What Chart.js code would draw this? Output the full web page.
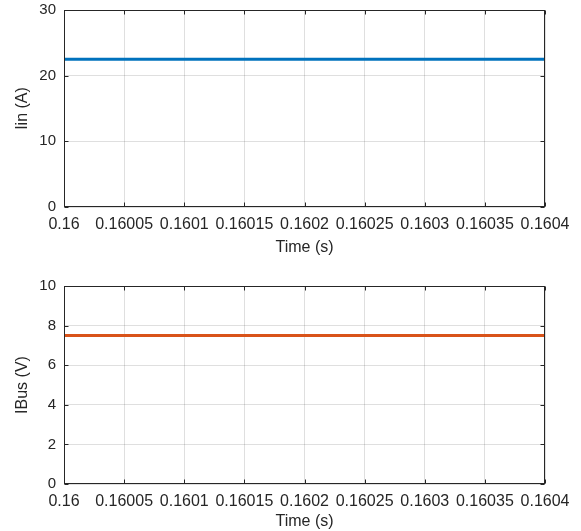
<!DOCTYPE html>
<html>
<head>
<meta charset="utf-8">
<script src="https://cdn.jsdelivr.net/npm/chart.js@4.4.1/dist/chart.umd.min.js"></script>
<style>
  body { margin: 0; background: #fff; }
  .panel { position: absolute; left: 0; width: 581px; }
</style>
</head>
<body>
<div class="panel" style="top:0;height:265px"><canvas id="iinChart"></canvas></div>
<div class="panel" style="top:265px;height:266px"><canvas id="ibusChart"></canvas></div>
<script>
// data
const timeS = [0.16, 0.1604];
const iinA = [22.5, 22.5];
const ibusV = [7.5, 7.5];
const xTicks = [0.16, 0.16005, 0.1601, 0.16015, 0.1602, 0.16025, 0.1603, 0.16035, 0.1604];
const iinTicks = [0, 10, 20, 30];
const ibusTicks = [0, 2, 4, 6, 8, 10];

const FONT = 'Liberation Sans, Arial, Helvetica, sans-serif';
const INK = '#262626';
const GRID = 'rgba(38,38,38,0.15)';

// MATLAB style box with inward tick marks
const boxPlugin = {
    id: 'box',
    afterDatasetsDraw(chart) {
        const { ctx, chartArea: a, scales } = chart;
        const L = Math.round(a.left) + 0.5, R = Math.round(a.right) - 0.5;
        const T = Math.round(a.top) + 0.5, B = Math.round(a.bottom) - 0.5;
        ctx.save();
        ctx.strokeStyle = INK;
        ctx.lineWidth = 1;
        ctx.strokeRect(L, T, R - L, B - T);
        ctx.beginPath();
        scales.x.ticks.forEach(t => {
            const px = Math.round(scales.x.getPixelForValue(t.value)) + 0.5;
            ctx.moveTo(px, B); ctx.lineTo(px, B - 4);
            ctx.moveTo(px, T); ctx.lineTo(px, T + 4);
        });
        scales.y.ticks.forEach(t => {
            const py = Math.round(scales.y.getPixelForValue(t.value)) + 0.5;
            ctx.moveTo(L, py); ctx.lineTo(L + 4, py);
            ctx.moveTo(R, py); ctx.lineTo(R - 4, py);
        });
        ctx.stroke();
        ctx.restore();
    }
};

function makeChart(id, values, color, yLabel, yTicks, padTop, xAxisHeight, titlePadBottom) {
    const ctx = document.getElementById(id).getContext('2d');
    return new Chart(ctx, {
        type: 'line',
        data: {
            datasets: [{
                data: timeS.map((t, i) => ({ x: t, y: values[i] })),
                borderColor: color,
                borderWidth: 3,
                pointRadius: 0,
                fill: false,
                tension: 0
            }]
        },
        options: {
            responsive: true,
            maintainAspectRatio: false,
            animation: false,
            layout: { padding: { top: padTop, right: 36, left: 0, bottom: 0 } },
            plugins: { legend: { display: false }, tooltip: { enabled: false } },
            scales: {
                x: {
                    type: 'linear',
                    min: xTicks[0],
                    max: xTicks[xTicks.length - 1],
                    afterBuildTicks: s => { s.ticks = xTicks.map(v => ({ value: v })); },
                    afterFit: s => { s.height = xAxisHeight; },
                    grid: { color: GRID, drawTicks: false },
                    border: { display: false },
                    ticks: {
                        autoSkip: false, maxRotation: 0, minRotation: 0, padding: 8,
                        color: INK, font: { family: FONT, size: 16 },
                        callback: v => String(v)
                    },
                    title: {
                        display: true, text: 'Time (s)', color: INK,
                        font: { family: FONT, size: 16 },
                        padding: { top: 0, bottom: titlePadBottom }
                    }
                },
                y: {
                    min: yTicks[0],
                    max: yTicks[yTicks.length - 1],
                    afterBuildTicks: s => { s.ticks = yTicks.map(v => ({ value: v })); },
                    afterFit: s => { s.width = 64; s.paddingTop = 0; s.paddingBottom = 0; },
                    grid: { color: GRID, drawTicks: false },
                    border: { display: false },
                    ticks: { padding: 8, color: INK, font: { family: FONT, size: 15 } },
                    title: {
                        display: true, text: yLabel, color: INK,
                        font: { family: FONT, size: 16 },
                        padding: { top: 13, bottom: 0 }
                    }
                }
            }
        },
        plugins: [boxPlugin]
    });
}

makeChart('iinChart', iinA, '#0072BD', 'Iin (A)', iinTicks, 10, 58, 8);
makeChart('ibusChart', ibusV, '#D95319', 'IBus (V)', ibusTicks, 21, 47, 0);
</script>
</body>
</html>
